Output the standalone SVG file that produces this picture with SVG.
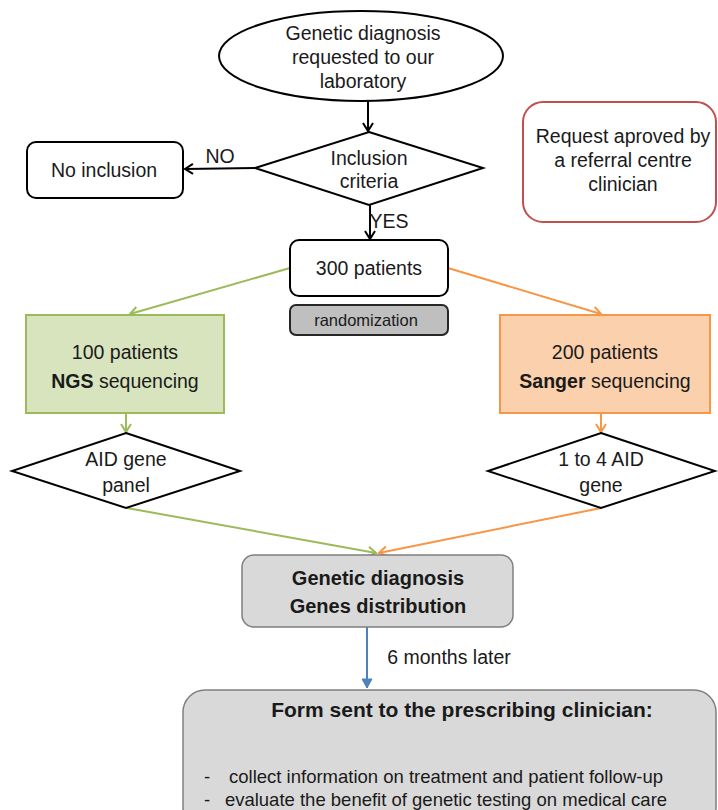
<svg xmlns="http://www.w3.org/2000/svg" width="718" height="810" viewBox="0 0 718 810">
<defs>
<style>
text{font-family:"Liberation Sans",Arial,sans-serif;fill:#1a1a1a;text-anchor:middle}
.t19{font-size:19.5px}
.b{font-weight:bold}
.shape{stroke:#000;stroke-width:2;fill:#fff}
.conn{fill:none;stroke-width:2}
</style>
<marker id="ak" viewBox="0 0 12 12" refX="10" refY="6" markerWidth="12" markerHeight="12" markerUnits="userSpaceOnUse" orient="auto"><path d="M2,1 L10,6 L2,11" fill="none" stroke="#000" stroke-width="2"/></marker>
<marker id="ag" viewBox="0 0 12 12" refX="10" refY="6" markerWidth="12" markerHeight="12" markerUnits="userSpaceOnUse" orient="auto"><path d="M2,1 L10,6 L2,11" fill="none" stroke="#9bbb59" stroke-width="2"/></marker>
<marker id="ao" viewBox="0 0 12 12" refX="10" refY="6" markerWidth="12" markerHeight="12" markerUnits="userSpaceOnUse" orient="auto"><path d="M2,1 L10,6 L2,11" fill="none" stroke="#f79646" stroke-width="2"/></marker>
<marker id="ab" viewBox="0 0 12 12" refX="10" refY="6" markerWidth="12" markerHeight="12" markerUnits="userSpaceOnUse" orient="auto"><path d="M1,1 L10,6 L1,11 Z" fill="#4f81bd" stroke="#4f81bd" stroke-width="1"/></marker>
</defs>
<rect width="718" height="810" fill="#fff"/>

<g id="connectors">
<line class="conn" x1="368" y1="100" x2="368" y2="131" stroke="#000" marker-end="url(#ak)"/>
<line class="conn" x1="255" y1="168" x2="185" y2="169" stroke="#000" marker-end="url(#ak)"/>
<line class="conn" x1="370" y1="205" x2="370" y2="239" stroke="#000" marker-end="url(#ak)"/>
<line class="conn" x1="290" y1="268" x2="130" y2="314" stroke="#9bbb59" marker-end="url(#ag)"/>
<line class="conn" x1="448" y1="268" x2="601" y2="314" stroke="#f79646" marker-end="url(#ao)"/>
<line class="conn" x1="126" y1="413" x2="126" y2="432" stroke="#9bbb59" marker-end="url(#ag)"/>
<line class="conn" x1="601" y1="413" x2="601" y2="432" stroke="#f79646" marker-end="url(#ao)"/>
<line class="conn" x1="127" y1="508" x2="376" y2="553" stroke="#9bbb59" marker-end="url(#ag)"/>
<line class="conn" x1="601" y1="508" x2="379" y2="553" stroke="#f79646" marker-end="url(#ao)"/>
<line class="conn" x1="367" y1="627" x2="367" y2="688" stroke="#4f81bd" marker-end="url(#ab)"/>
<text class="t19" x="220" y="163">NO</text>
<text class="t19" x="389" y="228">YES</text>
<text class="t19" x="449" y="664">6 months later</text>
</g>

<g id="start">
<ellipse class="shape" cx="361" cy="56" rx="142" ry="45"/>
<text class="t19" x="363" y="40">Genetic diagnosis</text>
<text class="t19" x="363" y="64">requested to our</text>
<text class="t19" x="363" y="88">laboratory</text>
</g>

<g id="inclusion">
<polygon class="shape" points="369,132 483,168 369,205 255,168"/>
<text class="t19" x="369" y="165">Inclusion</text>
<text class="t19" x="369" y="188">criteria</text>
</g>

<g id="no-inclusion">
<rect class="shape" x="27" y="142" width="156" height="56" rx="9"/>
<text class="t19" x="104" y="177">No inclusion</text>
</g>

<g id="request">
<rect x="523" y="102" width="193" height="120" rx="20" fill="#fff" stroke="#c0504d" stroke-width="2"/>
<text class="t19" x="623" y="143">Request aproved by</text>
<text class="t19" x="623" y="167">a referral centre</text>
<text class="t19" x="623" y="191">clinician</text>
</g>

<g id="patients300">
<rect class="shape" x="290" y="240" width="158" height="56" rx="9"/>
<text class="t19" x="369" y="275">300 patients</text>
</g>

<g id="randomization">
<rect x="290" y="305" width="158" height="30" rx="6" fill="#bfbfbf" stroke="#262626" stroke-width="2"/>
<text x="366" y="326" style="font-size:16.5px">randomization</text>
</g>

<g id="ngs">
<rect x="26" y="315" width="198" height="98" fill="#d7e4bd" stroke="#9bbb59" stroke-width="2"/>
<text class="t19" x="125" y="359">100 patients</text>
<text class="t19" x="125" y="388"><tspan font-weight="bold">NGS</tspan> sequencing</text>
</g>

<g id="sanger">
<rect x="500" y="315" width="210" height="98" fill="#fbd0ac" stroke="#f79646" stroke-width="2"/>
<text class="t19" x="605" y="359">200 patients</text>
<text class="t19" x="605" y="388"><tspan font-weight="bold">Sanger</tspan> sequencing</text>
</g>

<g id="aid-panel">
<polygon class="shape" points="126,433 240,471 126,508 12,471"/>
<text class="t19" x="126" y="466">AID gene</text>
<text class="t19" x="126" y="492">panel</text>
</g>

<g id="aid-1to4">
<polygon class="shape" points="601,433 715,471 601,508 488,471"/>
<text class="t19" x="601" y="466">1 to 4 AID</text>
<text class="t19" x="601" y="492">gene</text>
</g>

<g id="diagnosis">
<rect x="242" y="555" width="271" height="72" rx="12" fill="#d9d9d9" stroke="#7f7f7f" stroke-width="1.5"/>
<text class="b" x="378" y="585" style="font-size:20px">Genetic diagnosis</text>
<text class="b" x="378" y="613" style="font-size:20px">Genes distribution</text>
</g>

<g id="form">
<rect x="183" y="690" width="533" height="140" rx="22" fill="#d9d9d9" stroke="#7f7f7f" stroke-width="1.5"/>
<text class="b" x="462" y="717" style="font-size:21px">Form sent to the prescribing clinician:</text>
<text x="207" y="783" style="font-size:18.5px">-</text>
<text x="446" y="783" style="font-size:18.5px">collect information on treatment and patient follow-up</text>
<text x="207" y="806" style="font-size:18.5px">-</text>
<text x="446" y="806" style="font-size:18.5px">evaluate the benefit of genetic testing on medical care</text>
</g>
</svg>
